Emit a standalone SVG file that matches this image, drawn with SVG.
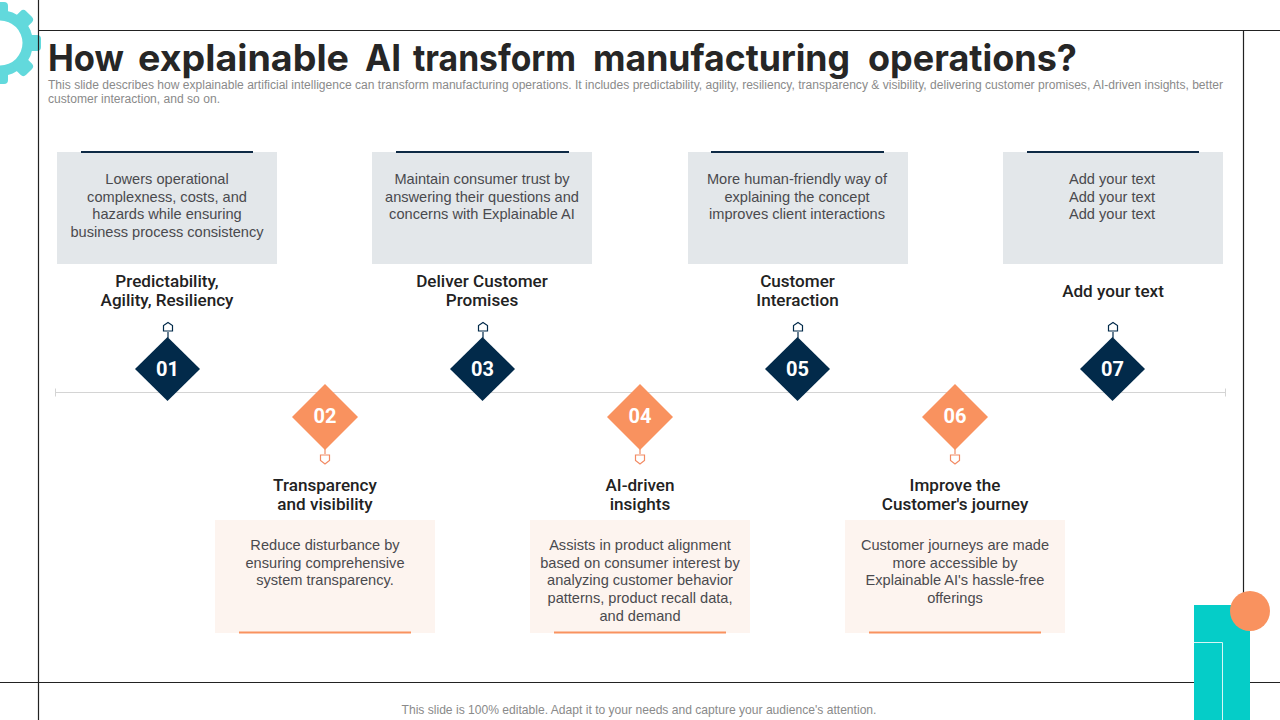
<svg xmlns="http://www.w3.org/2000/svg" width="1280" height="720" viewBox="0 0 1280 720">
<style>
.frame{stroke:#222;stroke-width:1.2;fill:none}
.title{font:700 37px Inter,"Liberation Sans",sans-serif;fill:#262626}
.sub{font:12px "Liberation Sans",sans-serif;fill:#8a8a8a}
.body{font:14.6px "Liberation Sans",sans-serif;fill:#4a4a4e;text-anchor:middle}
.head{font:500 17.1px Roboto,"Liberation Sans",sans-serif;fill:#222;text-anchor:middle}
.num{font:700 20px Roboto,"Liberation Sans",sans-serif;fill:#fff;text-anchor:middle}
.foot{font:12.1px "Liberation Sans",sans-serif;fill:#8a8a8a;text-anchor:middle}
.gbox{fill:#E3E7EA}
.obox{fill:#FDF4EF}
.nbar{stroke:#0E2A45;stroke-width:2;fill:none}
.obar{stroke:#F9925F;stroke-width:2;fill:none}
.nd{fill:#022A4A}
.od{fill:#F9925F}
.npin{stroke:#022A4A;stroke-width:1.2;fill:#fff}
.opin{stroke:#F28A63;stroke-width:1.2;fill:#fff}
.tooth{fill:#62D9DC}
</style>
<rect width="1280" height="720" fill="#fff"/>
<g id="decor">
<g id="gear" transform="translate(0 43)">
<circle r="33" fill="#62D9DC"/>
<rect class="tooth" x="24" y="-8" width="17" height="16" rx="4"/>
<rect class="tooth" x="24" y="-8" width="17" height="16" rx="4" transform="rotate(45)"/>
<rect class="tooth" x="24" y="-8" width="17" height="16" rx="4" transform="rotate(90)"/>
<rect class="tooth" x="24" y="-8" width="17" height="16" rx="4" transform="rotate(-45)"/>
<rect class="tooth" x="24" y="-8" width="17" height="16" rx="4" transform="rotate(-90)"/>
<circle r="22.500" fill="#fff"/>
</g>
<path class="frame" d="M38.500 0V720M38 30.500H1280M1243.500 30.500V605M0 682.500H1280"/>
<rect x="1194" y="605" width="56" height="115" fill="#05CDC8"/>
<path d="M1194 642.500H1222.500V720" fill="none" stroke="#d8f6f5" stroke-width="1"/>
<circle cx="1250" cy="611" r="20" fill="#F9925F"/>
</g>
<text class="title" y="71"><tspan x="48" textLength="76" lengthAdjust="spacingAndGlyphs">How</tspan> <tspan x="138" textLength="211" lengthAdjust="spacingAndGlyphs">explainable</tspan> <tspan x="365" textLength="36" lengthAdjust="spacingAndGlyphs">AI</tspan> <tspan x="413" textLength="163" lengthAdjust="spacingAndGlyphs">transform</tspan> <tspan x="593" textLength="257" lengthAdjust="spacingAndGlyphs">manufacturing</tspan> <tspan x="868" textLength="209" lengthAdjust="spacingAndGlyphs">operations?</tspan></text>
<text class="sub" x="48" y="89" textLength="1175" lengthAdjust="spacingAndGlyphs">This slide describes how explainable artificial intelligence can transform manufacturing operations. It includes predictability, agility, resiliency, transparency &amp; visibility, delivering customer promises, AI-driven insights, better</text>
<text class="sub" x="48" y="103" textLength="172" lengthAdjust="spacingAndGlyphs">customer interaction, and so on.</text>
<g id="connectors">
<path d="M55.500 392.500H1225.500M55.500 388.500V396.500M1225.500 388.500V396.500" stroke="#d4d4d4" stroke-width="1" fill="none"/>
<path d="M168 332V338M483 332V338M798 332V338M1113 332V338" stroke="#022A4A" stroke-width="1.2"/>
<path d="M325 446V454M640 446V454M955 446V454" stroke="#F28A63" stroke-width="1.2"/>
</g>
<g id="node-01">
<rect class="gbox" x="57" y="152" width="220" height="112"/><path class="nbar" d="M81 152H253"/>
<text class="body"><tspan x="167" y="184">Lowers operational</tspan><tspan x="167" y="202">complexness, costs, and</tspan><tspan x="167" y="219">hazards while ensuring</tspan><tspan x="167" y="237">business process consistency</tspan></text>
<text class="head"><tspan x="167" y="287">Predictability,</tspan><tspan x="167" y="306">Agility, Resiliency</tspan></text>
<path class="npin" d="M163.500 331V325.500L168 322.500 172.500 325.500V331Z"/>
<path class="nd" d="M167.500 337L200 369 167.500 401 135 369Z"/>
<text class="num" x="167.500" y="376">01</text>
</g>
<g id="node-02">
<path class="od" d="M325 384L358 417 325 450 292 417Z"/>
<text class="num" x="325" y="423">02</text>
<path class="opin" d="M320.500 455H329.500V460.500L325 464 320.500 460.500Z"/>
<text class="head"><tspan x="325" y="491">Transparency</tspan><tspan x="325" y="510">and visibility</tspan></text>
<rect class="obox" x="215" y="520" width="220" height="113"/><path class="obar" d="M239 632.500H411"/>
<text class="body"><tspan x="325" y="550">Reduce disturbance by</tspan><tspan x="325" y="568">ensuring comprehensive</tspan><tspan x="325" y="585">system transparency.</tspan></text>
</g>
<g id="node-03">
<rect class="gbox" x="372" y="152" width="220" height="112"/><path class="nbar" d="M396 152H569"/>
<text class="body"><tspan x="482" y="184">Maintain consumer trust by</tspan><tspan x="482" y="202">answering their questions and</tspan><tspan x="482" y="219">concerns with Explainable AI</tspan></text>
<text class="head"><tspan x="482" y="287">Deliver Customer</tspan><tspan x="482" y="306">Promises</tspan></text>
<path class="npin" d="M478.500 331V325.500L483 322.500 487.500 325.500V331Z"/>
<path class="nd" d="M482.500 337L515 369 482.500 401 450 369Z"/>
<text class="num" x="482.500" y="376">03</text>
</g>
<g id="node-04">
<path class="od" d="M640 384L673 417 640 450 607 417Z"/>
<text class="num" x="640" y="423">04</text>
<path class="opin" d="M635.500 455H644.500V460.500L640 464 635.500 460.500Z"/>
<text class="head"><tspan x="640" y="491">AI-driven</tspan><tspan x="640" y="510">insights</tspan></text>
<rect class="obox" x="530" y="520" width="220" height="113"/><path class="obar" d="M554 632.500H726"/>
<text class="body"><tspan x="640" y="550">Assists in product alignment</tspan><tspan x="640" y="568">based on consumer interest by</tspan><tspan x="640" y="585">analyzing customer behavior</tspan><tspan x="640" y="603">patterns, product recall data,</tspan><tspan x="640" y="621">and demand</tspan></text>
</g>
<g id="node-05">
<rect class="gbox" x="688" y="152" width="220" height="112"/><path class="nbar" d="M711 152H884"/>
<text class="body"><tspan x="797" y="184">More human-friendly way of</tspan><tspan x="797" y="202">explaining the concept</tspan><tspan x="797" y="219">improves client interactions</tspan></text>
<text class="head"><tspan x="797.500" y="287">Customer</tspan><tspan x="797.500" y="306">Interaction</tspan></text>
<path class="npin" d="M793.500 331V325.500L798 322.500 802.500 325.500V331Z"/>
<path class="nd" d="M797.500 337L830 369 797.500 401 765 369Z"/>
<text class="num" x="797.500" y="376">05</text>
</g>
<g id="node-06">
<path class="od" d="M955 384L988 417 955 450 922 417Z"/>
<text class="num" x="955" y="423">06</text>
<path class="opin" d="M950.500 455H959.500V460.500L955 464 950.500 460.500Z"/>
<text class="head"><tspan x="955" y="491">Improve the</tspan><tspan x="955" y="510">Customer's journey</tspan></text>
<rect class="obox" x="845" y="520" width="220" height="113"/><path class="obar" d="M869 632.500H1041"/>
<text class="body"><tspan x="955" y="550">Customer journeys are made</tspan><tspan x="955" y="568">more accessible by</tspan><tspan x="955" y="585">Explainable AI's hassle-free</tspan><tspan x="955" y="603">offerings</tspan></text>
</g>
<g id="node-07">
<rect class="gbox" x="1003" y="152" width="220" height="112"/><path class="nbar" d="M1027 152H1199"/>
<text class="body"><tspan x="1112" y="184">Add your text</tspan><tspan x="1112" y="202">Add your text</tspan><tspan x="1112" y="219">Add your text</tspan></text>
<text class="head" x="1113" y="297">Add your text</text>
<path class="npin" d="M1108.500 331V325.500L1113 322.500 1117.500 325.500V331Z"/>
<path class="nd" d="M1112.500 337L1145 369 1112.500 401 1080 369Z"/>
<text class="num" x="1112.500" y="376">07</text>
</g>
<text class="foot" x="639" y="714">This slide is 100% editable. Adapt it to your needs and capture your audience's attention.</text>
</svg>
